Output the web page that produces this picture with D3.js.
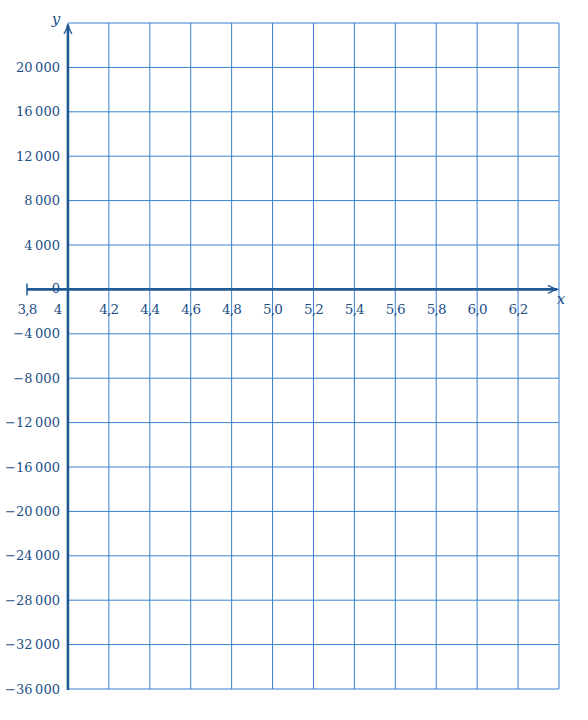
<!DOCTYPE html>
<html><head><meta charset="utf-8">
<script src="https://cdn.jsdelivr.net/npm/d3@7"></script>
<style>body{margin:0;background:#fff}</style>
</head><body>
<script>
const xDomain = [3.8, 6.4];
const yDomain = [-36000, 24000];
const xGrid = [4.0, 4.2, 4.4, 4.6, 4.8, 5.0, 5.2, 5.4, 5.6, 5.8, 6.0, 6.2, 6.4];
const yGrid = [24000, 20000, 16000, 12000, 8000, 4000, 0, -4000, -8000, -12000, -16000, -20000, -24000, -28000, -32000, -36000];
const xTickLabels = [4.2, 4.4, 4.6, 4.8, 5.0, 5.2, 5.4, 5.6, 5.8, 6.0, 6.2];
const yTickLabels = [20000, 16000, 12000, 8000, 4000, -4000, -8000, -12000, -16000, -20000, -24000, -28000, -32000, -36000];

const W = 588, H = 720;
const gridCol = "#3a80d0", axisCol = "#1f5a96", textCol = "#1d4f86";
const x = d3.scaleLinear().domain(xDomain).range([27, 559]);
const y = d3.scaleLinear().domain(yDomain).range([689, 23]);

const svg = d3.select("body").append("svg").attr("width", W).attr("height", H);
const font = "'DejaVu Serif', serif";

// grid
svg.append("g").selectAll("line").data(xGrid).join("line")
  .attr("x1", d => x(d)).attr("x2", d => x(d))
  .attr("y1", y(yDomain[0])).attr("y2", y(yDomain[1]))
  .attr("stroke", gridCol).attr("stroke-width", 1);
svg.append("g").selectAll("line").data(yGrid).join("line")
  .attr("x1", x(4.0)).attr("x2", x(6.4))
  .attr("y1", d => y(d)).attr("y2", d => y(d))
  .attr("stroke", gridCol).attr("stroke-width", 1);

// axes
svg.append("line").attr("x1", x(3.8)).attr("x2", x(6.4) - 2)
  .attr("y1", y(0)).attr("y2", y(0)).attr("stroke", axisCol).attr("stroke-width", 2.6);
svg.append("line").attr("x1", x(4.0)).attr("x2", x(4.0))
  .attr("y1", y(yDomain[0]) + 1).attr("y2", y(yDomain[1]) + 2).attr("stroke", axisCol).attr("stroke-width", 2.6);
// tick at 3.8
svg.append("line").attr("x1", x(3.8)).attr("x2", x(3.8))
  .attr("y1", y(0) - 6).attr("y2", y(0) + 6).attr("stroke", axisCol).attr("stroke-width", 1.5);
// arrowheads
const ax = x(6.4) - 1, ay = y(0);
svg.append("path").attr("d", `M${ax-10},${ay-4} Q${ax-4},${ay-0.5} ${ax},${ay} Q${ax-4},${ay+0.5} ${ax-10},${ay+4}`)
  .attr("fill", "none").attr("stroke", axisCol).attr("stroke-width", 1.4);
const bx = x(4.0), by = y(yDomain[1]) + 1;
svg.append("path").attr("d", `M${bx-4},${by+10} Q${bx-0.5},${by+4} ${bx},${by} Q${bx+0.5},${by+4} ${bx+4},${by+10}`)
  .attr("fill", "none").attr("stroke", axisCol).attr("stroke-width", 1.4);

const fmtX = d => d3.format(".1f")(d).replace(".", ",");
const fmtY = d => (d < 0 ? "\u2212" : "") + d3.format(",")(Math.abs(d)).replace(/,/g, "\u2009");

svg.append("g").selectAll("text").data(xTickLabels).join("text")
  .attr("x", d => x(d)).attr("y", y(0) + 25)
  .attr("text-anchor", "middle").attr("font-family", font).attr("font-size", 13.5)
  .attr("letter-spacing", -0.8)
  .attr("fill", textCol).text(fmtX);
svg.append("text").attr("x", x(3.8)).attr("y", y(0) + 25).attr("text-anchor", "middle")
  .attr("font-family", font).attr("font-size", 13.5).attr("letter-spacing", -0.8)
  .attr("fill", textCol).text("3,8");
svg.append("text").attr("x", x(4.0) - 10).attr("y", y(0) + 25).attr("text-anchor", "middle")
  .attr("font-family", font).attr("font-size", 13.5).attr("fill", textCol).text("4");

svg.append("g").selectAll("text").data(yTickLabels).join("text")
  .attr("x", x(4.0) - 8).attr("y", d => y(d)).attr("dy", "0.36em")
  .attr("text-anchor", "end").attr("font-family", font).attr("font-size", 13)
  .attr("fill", textCol).text(fmtY);
svg.append("text").attr("x", x(4.0) - 8).attr("y", y(0) - 1).attr("dy", "0.36em")
  .attr("text-anchor", "end").attr("font-family", font).attr("font-size", 13)
  .attr("fill", textCol).text("0");

svg.append("text").attr("x", 56).attr("y", 24).attr("text-anchor", "middle")
  .attr("font-family", font).attr("font-style", "italic").attr("font-size", 15)
  .attr("fill", textCol).text("y");
svg.append("text").attr("x", 561).attr("y", 304).attr("text-anchor", "middle")
  .attr("font-family", font).attr("font-style", "italic").attr("font-size", 15)
  .attr("fill", textCol).text("x");
</script>
</body></html>
